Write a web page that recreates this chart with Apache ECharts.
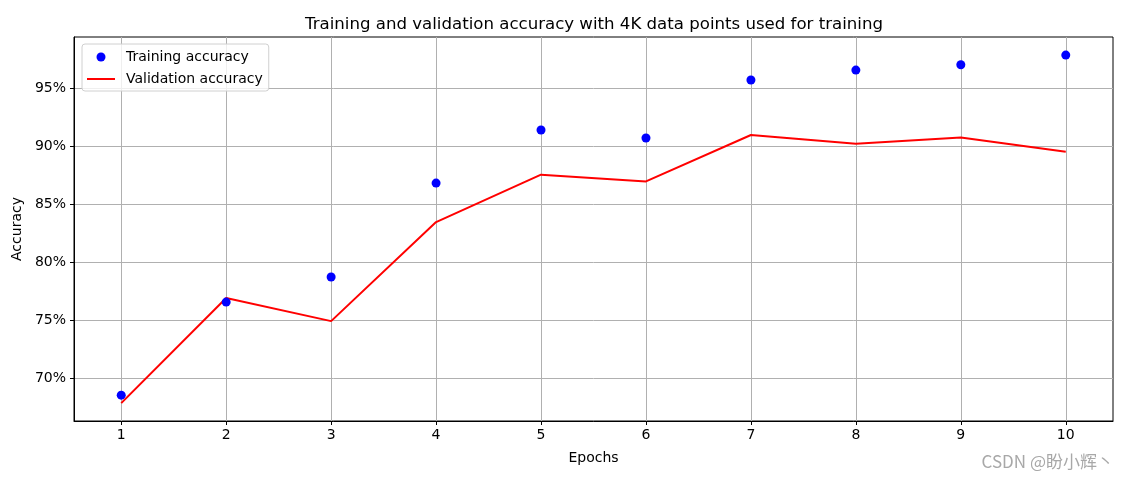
<!DOCTYPE html>
<html>
<head>
<meta charset="utf-8">
<script src="https://cdn.jsdelivr.net/npm/echarts@6/dist/echarts.min.js"></script>
<style>html,body{margin:0;padding:0;background:#fff}#c{width:1128px;height:480px}</style>
</head>
<body>
<div id="c"></div>
<script>
const epochs = [1, 2, 3, 4, 5, 6, 7, 8, 9, 10];
const trainingAcc = [68.53, 76.55, 78.71, 86.81, 91.38, 90.69, 95.69, 96.55, 97.01, 97.84];
const validationAcc = [67.84, 76.9, 74.91, 83.45, 87.53, 86.95, 90.95, 90.2, 90.74, 89.51];
const yTicks = [70, 75, 80, 85, 90, 95];
const titleText = 'Training and validation accuracy with 4K data points used for training';

const font = 'DejaVu Sans';
const lineIcon = 'path://M0,0 L0.01,0 L0.01,9 L0,9 Z M0,3.6 L28,3.6 L28,5.4 L0,5.4 Z';
const chart = echarts.init(document.getElementById('c'), null, {renderer: 'canvas'});
chart.setOption({
  animation: false,
  backgroundColor: '#fff',
  title: {
    text: titleText, left: 589, top: 11, textAlign: 'center',
    textStyle: {fontFamily: font, fontSize: 16.6, fontWeight: 'normal', color: '#000'}
  },
  grid: {left: 74, right: 15, top: 37, bottom: 59, show: true, borderColor: '#000', borderWidth: 1, backgroundColor: 'transparent'},
  legend: {
    orient: 'vertical', left: 82, top: 44, padding: [6, 6, 5, 5],
    backgroundColor: 'rgba(255,255,255,0.8)', borderColor: '#d0d0d0', borderWidth: 1, borderRadius: 3,
    itemWidth: 28, itemHeight: 9, itemGap: 8,
    textStyle: {fontFamily: font, fontSize: 14, color: '#000', padding: [0, 0, 0, 6]},
    data: [{name: 'Training accuracy', icon: 'circle'}, {name: 'Validation accuracy', icon: lineIcon}]
  },
  xAxis: {
    type: 'value', min: 0.55, max: 10.45,
    name: 'Epochs', nameLocation: 'middle', nameGap: 30,
    nameTextStyle: {fontFamily: font, fontSize: 14, color: '#000'},
    axisLine: {lineStyle: {color: '#000'}},
    axisTick: {show: true, length: 4, lineStyle: {color: '#000'}, customValues: epochs},
    axisLabel: {fontFamily: font, fontSize: 14, color: '#000', margin: 7, customValues: epochs},
    splitLine: {show: true, lineStyle: {color: '#b0b0b0', width: 1}}
  },
  yAxis: {
    type: 'value', min: 66.3, max: 99.4,
    name: 'Accuracy', nameLocation: 'middle', nameGap: 46,
    nameTextStyle: {fontFamily: font, fontSize: 14, color: '#000'},
    axisLine: {show: true, lineStyle: {color: '#000'}},
    axisTick: {show: true, length: 4, lineStyle: {color: '#000'}, customValues: yTicks},
    axisLabel: {fontFamily: font, fontSize: 14, color: '#000', margin: 8, customValues: yTicks, formatter: v => Math.round(v) + '%'},
    splitLine: {show: true, lineStyle: {color: '#b0b0b0', width: 1}}
  },
  series: [
    {
      name: 'Training accuracy', type: 'scatter', symbol: 'circle', symbolSize: 9,
      itemStyle: {color: '#0000ff', opacity: 1}, z: 3,
      data: epochs.map((e, i) => [e, trainingAcc[i]])
    },
    {
      name: 'Validation accuracy', type: 'line', symbol: 'none', showSymbol: false,
      lineStyle: {color: '#ff0000', width: 2}, itemStyle: {color: '#ff0000'}, z: 2,
      data: epochs.map((e, i) => [e, validationAcc[i]])
    }
  ],
  graphic: [{
    type: 'text', right: 14, top: 453,
    style: {text: 'CSDN @盼小辉丶', fontFamily: 'Noto Sans CJK SC', fontSize: 17, fill: '#a8a8a8'}
  }]
});
</script>
</body>
</html>
